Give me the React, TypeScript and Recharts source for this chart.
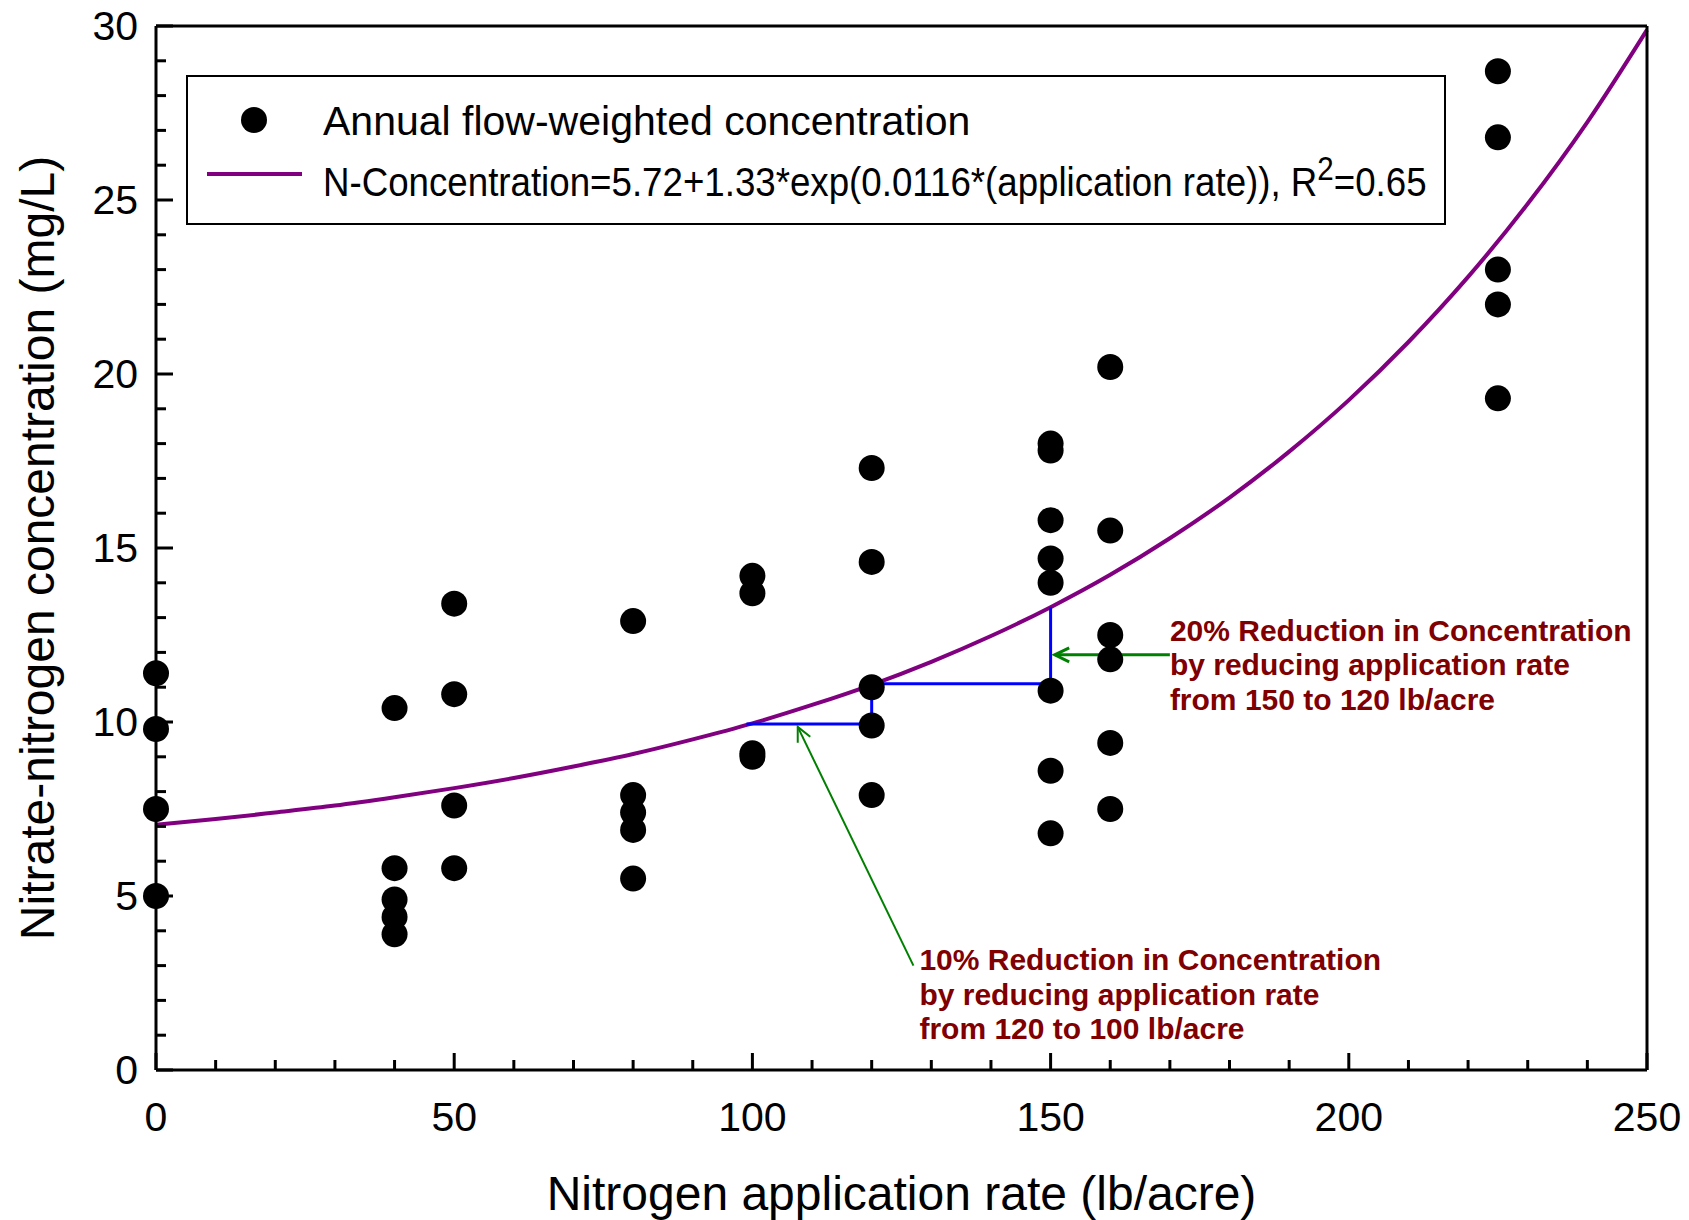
import React from "react";
import { ComposedChart, Scatter, Line, XAxis, YAxis, ReferenceLine, ReferenceDot, Label } from "recharts";

const FONT = '"Liberation Sans", Arial, Helvetica, sans-serif';
const NOTE_RED = "#800000";

// measured annual concentrations, grouped by application rate
const RATES = [0, 40, 50, 80, 100, 120, 150, 160, 225];
const CONC = [
  [11.4, 9.8, 7.5, 5.0],
  [10.4, 5.8, 4.9, 4.4, 3.9],
  [13.4, 10.8, 7.6, 5.8],
  [12.9, 7.9, 7.4, 6.9, 5.5],
  [14.2, 13.7, 9.1, 9.0],
  [17.3, 14.6, 11.0, 9.9, 7.9],
  [18.0, 17.8, 15.8, 14.7, 14.0, 10.9, 8.6, 6.8],
  [20.2, 15.5, 12.5, 11.8, 9.4, 7.5],
  [28.7, 26.8, 23.0, 22.0, 19.3],
];

// fitted curve
const FIT_X = [0, 10, 20, 30, 40, 50, 60, 70, 80, 90, 100, 110, 120, 130, 140, 150, 160, 170, 180, 190, 200, 210, 220, 230, 240, 250];
const FIT_Y = [7.05, 7.21, 7.4, 7.6, 7.84, 8.1, 8.39, 8.72, 9.08, 9.5, 9.96, 10.49, 11.07, 11.73, 12.47, 13.3, 14.23, 15.28, 16.45, 17.77, 19.25, 20.92, 22.79, 24.89, 27.24, 29.89];

const X_TICKS = [0, 10, 20, 30, 40, 50, 60, 70, 80, 90, 100, 110, 120, 130, 140, 150, 160, 170, 180, 190, 200, 210, 220, 230, 240, 250];
const Y_TICKS = [0, 1, 2, 3, 4, 5, 6, 7, 8, 9, 10, 11, 12, 13, 14, 15, 16, 17, 18, 19, 20, 21, 22, 23, 24, 25, 26, 27, 28, 29, 30];

// blue step lines (x1, y1, x2, y2)
const STEPS = [
  [99, 9.94, 120, 9.94],
  [120, 9.94, 120, 10.8],
  [120, 11.1, 150, 11.1],
  [150, 11.1, 150, 13.3],
];

// green arrows: tail -> head
const ARROWS = [
  { from: [170, 11.93], to: [150.7, 11.93], w: 3 },
  { from: [127, 3.0], to: [107.6, 9.86], w: 2 },
];

const NOTES = [
  { at: [170, 12.33], lines: ["20% Reduction in Concentration", "by reducing application rate", "from 150 to 120 lb/acre"] },
  { at: [128, 2.87], lines: ["10% Reduction in Concentration", "by reducing application rate", "from 120 to 100 lb/acre"] },
];

const points = RATES.flatMap((r, i) => CONC[i].map((c) => ({ x: r, y: c })));
const fit = FIT_X.map((x, i) => ({ x, y: FIT_Y[i] }));

function BottomTick(props: any) {
  const { x, y, payload } = props;
  const major = payload.value % 50 === 0;
  return (
    <g>
      <line x1={x} x2={x} y1={y} y2={y - (major ? 17 : 10)} stroke="#000" strokeWidth={3} />
      {major && (
        <text x={x} y={y + 61} textAnchor="middle" fontSize={41} fontFamily={FONT} fill="#000">
          {payload.value}
        </text>
      )}
    </g>
  );
}

function TopTick(props: any) {
  const { x, y, payload } = props;
  const major = payload.value % 50 === 0;
  return <line x1={x} x2={x} y1={y} y2={y + (major ? 17 : 10)} stroke="#000" strokeWidth={3} />;
}

function LeftTick(props: any) {
  const { x, y, payload } = props;
  const major = payload.value % 5 === 0;
  return (
    <g>
      <line x1={x} x2={x + (major ? 17 : 10)} y1={y} y2={y} stroke="#000" strokeWidth={3} />
      {major && (
        <text x={x - 18} y={y + 14} textAnchor="end" fontSize={41} fontFamily={FONT} fill="#000">
          {payload.value}
        </text>
      )}
    </g>
  );
}

function RightTick(props: any) {
  const { x, y, payload } = props;
  const major = payload.value % 5 === 0;
  return <line x1={x} x2={x - (major ? 17 : 10)} y1={y} y2={y} stroke="#000" strokeWidth={3} />;
}

function Arrow(w: number) {
  return (p: any) => {
    const { x1, y1, x2, y2 } = p;
    const a = Math.atan2(y2 - y1, x2 - x1);
    const len = 16;
    const h1 = [x2 - len * Math.cos(a - 0.45), y2 - len * Math.sin(a - 0.45)];
    const h2 = [x2 - len * Math.cos(a + 0.45), y2 - len * Math.sin(a + 0.45)];
    return (
      <g stroke="#008000" strokeWidth={w} fill="none">
        <line x1={x1} y1={y1} x2={x2} y2={y2} />
        <polyline points={`${h1[0]},${h1[1]} ${x2},${y2} ${h2[0]},${h2[1]}`} />
      </g>
    );
  };
}

function noteContent(lines: string[]) {
  return (p: any) => {
    const vb = p.viewBox;
    if (!vb) return null;
    const x = vb.x + (vb.width || 0) / 2;
    const y = vb.y + (vb.height || 0) / 2;
    return (
      <text x={x} y={y} fontSize={30} fontWeight="bold" fontFamily={FONT} fill={NOTE_RED}>
        {lines.map((l, i) => (
          <tspan key={i} x={x} dy={i === 0 ? 0 : 34.5}>
            {l}
          </tspan>
        ))}
      </text>
    );
  };
}

function ChartLegend() {
  return (
    <div
      style={{
        position: "absolute",
        left: 186,
        top: 75,
        width: 1260,
        height: 150,
        border: "2px solid #000",
        boxSizing: "border-box",
        background: "#fff",
      }}
    >
      <svg width={1256} height={146} style={{ display: "block" }}>
        <circle cx={66} cy={43} r={13} fill="#000" />
        <text x={135} y={58} fontSize={41} fontFamily={FONT} fill="#000">
          Annual flow-weighted concentration
        </text>
        <line x1={19} x2={114} y1={97} y2={97} stroke="#800080" strokeWidth={4} />
        <g transform="translate(135 0) scale(0.895 1)">
          <text x={0} y={119} fontSize={41} fontFamily={FONT} fill="#000">
            N-Concentration=5.72+1.33*exp(0.0116*(application rate)), R
            <tspan fontSize={33} dy={-16}>2</tspan>
            <tspan dy={16}>=0.65</tspan>
          </text>
        </g>
      </svg>
    </div>
  );
}

export default function App() {
  return (
    <div style={{ position: "absolute", left: 0, top: 0, width: 1689, height: 1220, background: "#fff" }}>
      <ComposedChart width={1689} height={1220} margin={{ top: 20, right: 40, bottom: 0, left: 0 }}>
        <XAxis
          xAxisId={0}
          dataKey="x"
          type="number"
          domain={[0, 250]}
          ticks={X_TICKS}
          interval={0}
          height={150}
          tickSize={0}
          tickMargin={0}
          tickLine={false}
          tick={<BottomTick />}
          axisLine={{ stroke: "#000", strokeWidth: 3 }}
        >
          <Label
            content={(p: any) => {
              const vb = p.viewBox;
              if (!vb) return null;
              return (
                <text x={vb.x + vb.width / 2} y={vb.y + 140} textAnchor="middle" fontSize={48} fontFamily={FONT} fill="#000">
                  Nitrogen application rate (lb/acre)
                </text>
              );
            }}
          />
        </XAxis>
        <XAxis
          xAxisId="top"
          orientation="top"
          dataKey="x"
          type="number"
          domain={[0, 250]}
          ticks={X_TICKS}
          interval={0}
          height={6}
          tickSize={0}
          tickMargin={0}
          tickLine={false}
          tick={<TopTick />}
          axisLine={{ stroke: "#000", strokeWidth: 3 }}
        />
        <YAxis
          yAxisId={0}
          type="number"
          domain={[0, 30]}
          ticks={Y_TICKS}
          interval={0}
          width={156}
          tickSize={0}
          tickMargin={0}
          tickLine={false}
          tick={<LeftTick />}
          axisLine={{ stroke: "#000", strokeWidth: 3 }}
        >
          <Label
            content={(p: any) => {
              const vb = p.viewBox;
              if (!vb) return null;
              const cx = vb.x + 54;
              const cy = vb.y + vb.height / 2;
              return (
                <text x={cx} y={cy} transform={`rotate(-90 ${cx} ${cy})`} textAnchor="middle" fontSize={48} fontFamily={FONT} fill="#000">
                  Nitrate-nitrogen concentration (mg/L)
                </text>
              );
            }}
          />
        </YAxis>
        <YAxis
          yAxisId="right"
          orientation="right"
          type="number"
          domain={[0, 30]}
          ticks={Y_TICKS}
          interval={0}
          width={2}
          tickSize={0}
          tickMargin={0}
          tickLine={false}
          tick={<RightTick />}
          axisLine={{ stroke: "#000", strokeWidth: 3 }}
        />
        <Scatter
          data={points}
          dataKey="y"
          isAnimationActive={false}
          shape={(p: any) => <circle cx={p.cx} cy={p.cy} r={13} fill="#000" />}
        />
        <Line data={fit} dataKey="y" type="monotone" stroke="#800080" strokeWidth={4} dot={false} activeDot={false} isAnimationActive={false} />
        {STEPS.map((s, i) => (
          <ReferenceLine
            key={`s${i}`}
            segment={[
              { x: s[0], y: s[1] },
              { x: s[2], y: s[3] },
            ]}
            stroke="#0000FF"
            strokeWidth={3}
          />
        ))}
        {ARROWS.map((a, i) => (
          <ReferenceLine
            key={`a${i}`}
            segment={[
              { x: a.from[0], y: a.from[1] },
              { x: a.to[0], y: a.to[1] },
            ]}
            shape={Arrow(a.w)}
          />
        ))}
        {NOTES.map((n, i) => (
          <ReferenceDot key={`n${i}`} x={n.at[0]} y={n.at[1]} r={1} fill="none" stroke="none" label={{ content: noteContent(n.lines) }} />
        ))}
      </ComposedChart>
      <ChartLegend />
    </div>
  );
}
